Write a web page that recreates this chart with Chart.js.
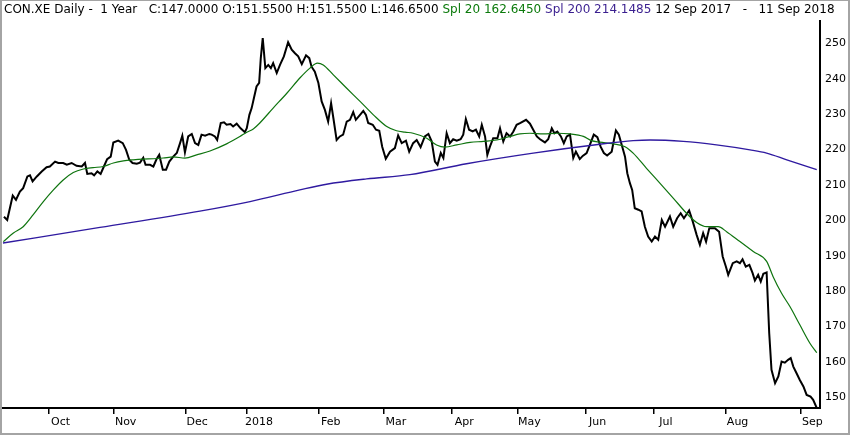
<!DOCTYPE html>
<html>
<head>
<meta charset="utf-8">
<script src="https://cdn.jsdelivr.net/npm/chart.js@4.4.1/dist/chart.umd.min.js"></script>
<style>
  html, body { margin: 0; padding: 0; background: #fff; }
  #wrap { position: relative; width: 850px; height: 435px; overflow: hidden; }
  #chart { position: absolute; left: 0; top: 0; }
  #head { position: absolute; left: 4px; top: 2px; font: 12px "DejaVu Sans", sans-serif; white-space: pre; color: #000; }
  #frame { position: absolute; left: 0; top: 0; width: 850px; height: 435px; box-sizing: border-box; border: 2px solid #a4a4a4; border-top-width: 1px; pointer-events: none; }
  .g { color: #0b7a0b; }
  .p { color: #3a1f8f; }
</style>
</head>
<body>
<div id="wrap">
  <canvas id="chart" width="850" height="435"></canvas>
  <div id="head">CON.XE Daily -  1 Year   C:147.0000 O:151.5500 H:151.5500 L:146.6500 <span class="g">Spl 20 162.6450</span> <span class="p">Spl 200 214.1485</span> 12 Sep 2017   -   11 Sep 2018</div>
  <div id="frame"></div>
</div>
<script>
// x = trading day since 12 Sep 2017
const closeDays = [0.3,1.3,3.0,4.0,5.2,6.2,7.5,8.3,9.1,10.4,11.9,13.4,14.4,16.0,17.0,18.5,19.6,21.1,22.6,24.2,25.2,25.9,27.2,28.0,29.0,30.0,31.0,32.0,33.1,33.9,35.4,36.8,37.8,38.8,39.8,41.1,42.1,43.1,43.8,45.2,46.2,47.2,48.0,49.1,50.1,51.1,52.3,53.4,54.4,55.1,55.9,56.9,58.0,59.0,60.0,61.0,62.1,63.4,64.1,65.1,65.8,66.9,67.9,68.7,69.9,70.7,71.8,73.0,74.3,74.9,75.7,76.4,77.2,77.9,78.7,79.2,79.8,80.6,81.5,82.3,83.0,84.1,85.1,86.3,87.6,88.7,89.7,90.7,91.8,93.1,94.1,94.8,95.8,96.9,97.9,98.9,99.9,100.8,101.5,102.5,103.5,104.5,105.6,106.6,107.6,108.4,109.5,110.7,111.5,112.2,113.6,114.6,115.6,116.5,117.6,118.9,120.4,121.4,122.5,123.8,124.8,126.0,127.1,128.3,129.6,130.7,131.7,132.7,133.5,134.5,135.3,136.3,137.3,138.3,139.4,140.6,141.4,142.2,143.2,144.3,145.3,146.3,147.1,148.1,148.8,149.6,150.6,151.9,152.7,153.7,154.7,155.8,156.8,157.8,159.0,160.7,161.9,162.9,164.0,165.0,166.5,167.5,168.6,169.4,170.3,171.4,172.3,173.2,174.2,175.2,176.0,177.2,178.1,179.3,180.3,181.5,182.6,183.6,184.6,185.6,187.0,187.7,188.3,189.2,190.1,191.1,191.8,192.6,193.3,194.1,195.2,196.2,197.2,198.2,199.3,200.3,201.3,202.4,203.4,204.9,205.9,207.1,208.2,209.2,210.8,211.9,213.1,214.1,215.1,216.0,217.0,218.7,220.0,221.1,222.1,222.8,224.2,225.4,226.4,227.2,228.2,229.3,230.3,231.0,232.0,232.8,233.6,234.6,235.4,236.1,237.2,238.2,239.2,240.2,241.2,242.0,242.8,243.8,244.8,245.9,246.9,248.1,248.9,250.0];
const closeValues = [201.0,200.1,207.0,205.8,208.1,209.1,212.4,212.7,211.0,212.4,213.8,215.0,215.2,216.6,216.2,216.2,215.7,216.2,215.4,215.2,216.2,213.1,213.3,212.7,213.8,213.1,215.2,217.3,218.0,222.0,222.5,221.8,219.9,217.1,216.2,216.0,216.3,217.7,215.7,215.7,215.2,217.3,218.5,214.3,214.3,216.6,218.0,219.0,221.8,223.9,219.2,223.7,224.4,221.8,221.3,224.2,223.9,224.4,224.2,223.7,222.7,227.5,227.7,227.0,227.2,226.5,227.3,226.0,224.9,226.0,229.8,231.7,235.0,237.8,238.8,245.8,251.5,243.0,243.9,243.0,244.4,241.6,243.9,246.3,250.3,248.2,247.2,246.3,244.1,246.6,245.8,243.4,242.0,238.8,233.6,231.2,227.9,233.1,228.9,222.7,223.7,224.2,227.9,228.4,230.6,228.4,229.6,230.9,229.8,227.5,227.0,225.6,225.3,220.8,217.4,219.4,220.4,224.0,221.8,222.5,219.4,221.8,222.7,220.7,223.7,224.4,222.3,216.6,215.7,219.0,217.6,224.6,221.8,222.9,222.5,222.9,224.2,228.6,225.6,225.1,225.6,223.7,227.0,223.7,218.5,220.8,223.2,223.2,226.0,222.3,224.6,223.7,225.1,227.0,227.5,228.4,227.3,225.6,223.7,222.9,222.0,222.9,226.0,224.6,225.1,223.7,221.8,223.7,224.2,217.6,219.4,217.3,218.2,219.0,221.3,224.2,223.5,220.8,219.0,218.3,219.4,222.7,225.4,224.2,221.3,218.0,213.3,210.5,208.6,203.4,203.0,202.5,198.2,195.4,194.0,195.4,194.5,200.1,198.2,201.1,198.2,200.6,202.0,200.6,202.8,199.7,195.9,193.1,196.4,194.0,197.8,197.8,196.8,189.8,186.9,184.6,187.9,188.4,187.9,189.0,186.9,187.4,185.1,183.0,184.6,182.7,184.9,185.3,168.1,157.8,154.0,155.9,160.1,159.8,160.6,161.1,158.7,156.8,154.9,153.1,150.7,150.2,149.3,147.0];

const ma20Days = [0.1,3.2,6.2,9.3,12.4,15.5,18.5,21.6,24.7,27.7,30.8,33.9,37.0,40.0,43.1,46.2,49.2,52.3,55.9,59.5,63.6,68.7,72.8,74.9,76.9,78.9,83.0,87.2,91.2,94.3,96.6,98.4,101.5,105.6,109.7,113.8,117.9,120.9,123.5,126.0,130.2,133.2,135.8,139.4,143.5,147.6,151.7,155.8,158.8,161.9,166.0,170.1,174.2,178.3,180.8,183.4,187.5,191.1,193.6,197.7,201.8,205.9,210.0,213.1,216.2,219.7,222.3,226.4,230.5,234.6,236.6,239.2,241.8,244.8,247.9,250.0];
const ma20Values = [194.0,196.4,198.2,201.6,205.3,208.6,211.4,213.5,214.5,214.9,215.2,216.2,216.8,217.1,217.3,217.4,217.6,217.9,217.6,218.5,219.6,221.6,223.7,224.9,225.8,227.5,231.7,235.9,240.2,243.0,244.4,243.9,241.1,237.3,233.6,229.8,226.5,225.3,224.9,224.6,223.2,221.3,220.7,221.3,222.0,222.3,222.7,223.7,224.4,224.6,224.4,224.6,224.4,223.7,222.5,222.1,221.6,220.8,219.0,214.7,210.5,206.3,202.0,199.4,198.2,198.2,196.8,194.0,191.2,188.4,184.1,179.4,175.6,170.5,165.3,162.6];

const ma200Days = [0,29.8,60.5,75.9,91.2,99.4,111.7,125.0,142.4,162.9,183.4,193.6,198.8,209.0,219.2,229.5,234.6,240.8,250.0];
const ma200Values = [193.6,198.0,202.6,205.3,208.6,210.2,211.7,212.9,216.0,219.0,221.5,222.5,222.7,222.3,221.3,219.9,219.0,217.1,214.3];

const monthTickDays = [14, 34, 56, 75, 97, 117, 138, 158, 179, 200, 222, 245];
const monthLabels = ['Oct', 'Nov', 'Dec', '2018', 'Feb', 'Mar', 'Apr', 'May', 'Jun', 'Jul', 'Aug', 'Sep'];
const priceTicks = [150, 160, 170, 180, 190, 200, 210, 220, 230, 240, 250];

function zip(xs, ys) {
  return xs.map((x, i) => ({ x: x, y: ys[i] }));
}

const tickFont = { family: '"DejaVu Sans", sans-serif', size: 11 };

new Chart(document.getElementById('chart').getContext('2d'), {
  type: 'line',
  data: {
    datasets: [
      {
        label: 'Spl 200',
        data: zip(ma200Days, ma200Values),
        borderColor: '#2f1aa0',
        borderWidth: 1.4,
        tension: 0.4,
        cubicInterpolationMode: 'monotone',
        pointRadius: 0
      },
      {
        label: 'Spl 20',
        data: zip(ma20Days, ma20Values),
        borderColor: '#0f740f',
        borderWidth: 1.2,
        tension: 0.4,
        cubicInterpolationMode: 'monotone',
        pointRadius: 0
      },
      {
        label: 'CON.XE',
        data: zip(closeDays, closeValues),
        borderColor: '#000',
        borderWidth: 2,
        tension: 0,
        pointRadius: 0
      }
    ]
  },
  options: {
    responsive: false,
    animation: false,
    layout: { padding: { top: 21, left: 2, right: 0, bottom: 0 } },
    plugins: { legend: { display: false }, tooltip: { enabled: false } },
    scales: {
      x: {
        type: 'linear',
        min: -0.3,
        max: 251,
        afterFit: s => { s.height = 27; },
        afterBuildTicks: s => { s.ticks = monthTickDays.map(v => ({ value: v })); },
        border: { display: true, color: '#000', width: 2 },
        grid: { display: true, drawOnChartArea: false, drawTicks: true, tickLength: 6, color: '#000', lineWidth: 1.5 },
        ticks: {
          color: '#000',
          font: tickFont,
          padding: 2,
          labelOffset: 12,
          maxRotation: 0,
          autoSkip: false,
          callback: (v, i) => monthLabels[i]
        }
      },
      y: {
        position: 'right',
        min: 147,
        max: 256.3,
        afterFit: s => { s.width = 30; },
        afterBuildTicks: s => { s.ticks = priceTicks.map(v => ({ value: v })); },
        border: { display: true, color: '#000', width: 2 },
        grid: { display: false, drawTicks: false },
        ticks: { color: '#000', font: tickFont, padding: 5, callback: v => String(v) }
      }
    }
  }
});
</script>
</body>
</html>
